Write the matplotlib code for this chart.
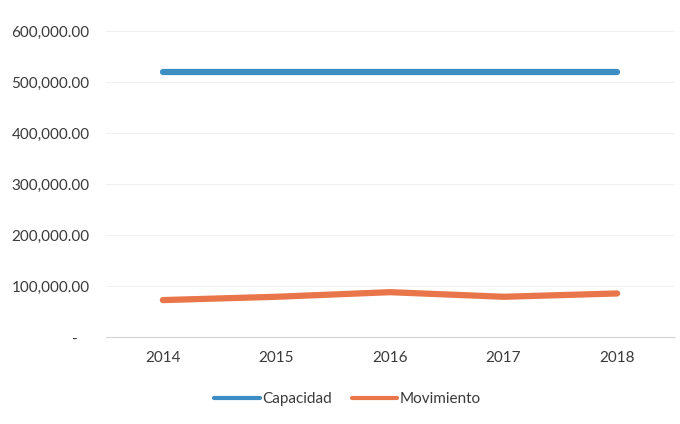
import matplotlib.pyplot as plt
from matplotlib.ticker import FuncFormatter

# Data
years = ['2014', '2015', '2016', '2017', '2018']
capacidad = [520000, 520000, 520000, 520000, 520000]
movimiento = [72500, 79000, 88000, 79000, 85500]

plt.rcParams['font.family'] = ['Lato', 'DejaVu Sans']

fig = plt.figure(figsize=(6.8, 4.24), dpi=100)
ax = fig.add_axes([0.156, 0.205, 0.835, 0.722])

x = range(len(years))
ax.plot(x, capacidad, color='#3b8dc4', linewidth=4.5, solid_capstyle='round',
        solid_joinstyle='round', label='Capacidad')
ax.plot(x, movimiento, color='#e8764a', linewidth=4.5, solid_capstyle='round',
        solid_joinstyle='round', label='Movimiento')

ax.set_xlim(-0.5, len(years) - 0.5)
ax.set_ylim(0, 600000)
ax.set_yticks(range(0, 600001, 100000))
ax.yaxis.set_major_formatter(FuncFormatter(
    lambda v, p: '-   ' if v == 0 else '{:,.2f}'.format(v)))
ax.set_xticks(list(x))
ax.set_xticklabels(years)

ax.grid(axis='y', color='#f0f0f0', linewidth=0.8)
ax.set_axisbelow(True)
for s in ['top', 'right', 'left']:
    ax.spines[s].set_visible(False)
ax.spines['bottom'].set_color('#d4d4d4')
ax.tick_params(axis='both', length=0, labelsize=11, colors='#3a3a3a')
ax.tick_params(axis='y', pad=12)
ax.tick_params(axis='x', pad=10)

leg = ax.legend(loc='upper center', bbox_to_anchor=(0.425, -0.135), ncol=2,
                frameon=False, fontsize=11, handlelength=3.0,
                handletextpad=0.15, columnspacing=1.3, labelcolor='#3a3a3a')
for line in leg.get_lines():
    line.set_linewidth(3)

fig.savefig('out.png', dpi=100, facecolor='white')
